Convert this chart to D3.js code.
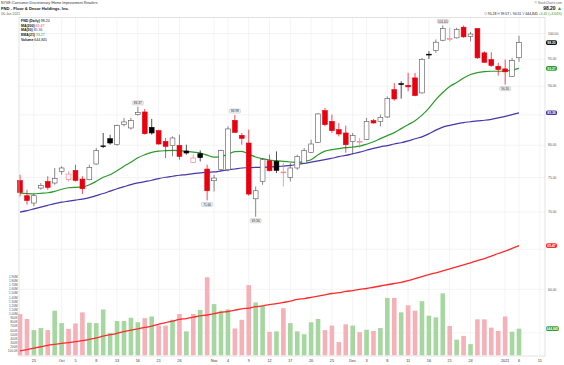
<!DOCTYPE html>
<html>
<head>
<meta charset="utf-8">
<script src="https://cdn.jsdelivr.net/npm/d3@7"></script>
<style>
  body { margin: 0; background: #fff; }
  svg { display: block; font-family: "Liberation Sans", Arial, sans-serif; }
</style>
</head>
<body>
<svg id="chart" width="564" height="365"></svg>
<script>
// FND daily, 23-Sep-2020 .. 06-Jan-2021 (73 sessions)
const opens = [74.57,72.33,71.28,73.45,74.42,74.19,75.93,74.68,76.08,74.78,74.68,77.06,79.90,81.06,80.09,83.36,82.81,85.04,85.50,82.91,
  82.37,80.62,79.93,79.98,79.09,77.31,78.66,76.29,74.53,76.19,76.19,84.08,81.60,80.36,71.89,74.42,77.57,77.46,75.80,75.02,
  76.45,77.21,78.87,80.46,85.73,83.91,82.53,81.99,80.62,80.55,80.90,84.03,83.91,84.65,89.40,90.48,90.18,91.52,88.82,95.95,
  96.66,98.67,98.90,99.14,101.27,99.40,101.00,96.21,94.93,93.67,93.18,91.81,95.28];
const highs = [75.43,73.20,72.60,74.19,75.20,76.45,76.70,75.93,76.95,75.20,76.95,79.56,81.99,81.70,83.36,84.49,84.49,86.37,86.02,84.32,
  82.53,81.17,81.43,81.70,80.09,78.51,79.19,76.95,75.43,79.30,83.08,84.98,81.99,82.53,73.68,77.99,78.51,79.03,77.26,77.21,
  78.51,79.56,80.90,85.30,86.20,85.04,83.64,83.19,81.99,81.17,84.49,84.32,85.04,88.21,90.61,90.90,92.44,92.44,95.26,96.52,
  98.81,101.65,101.15,101.15,101.60,100.30,101.00,96.52,96.33,94.31,94.93,95.26,99.57];
const lows = [72.22,71.04,70.80,73.20,73.20,73.93,75.43,74.42,74.42,72.60,74.60,76.95,79.56,80.10,79.93,83.08,82.53,84.90,81.70,81.70,
  80.09,77.99,78.24,77.72,78.51,77.21,77.46,71.66,72.95,75.93,75.93,81.99,80.09,72.33,69.36,73.93,75.93,75.68,73.68,74.42,
  76.19,77.10,78.77,80.36,83.08,81.99,81.43,78.82,78.51,79.56,80.85,83.53,83.08,84.49,87.46,87.81,89.10,88.21,88.70,95.07,
  96.21,98.47,98.47,99.00,99.14,98.47,95.07,94.31,93.56,91.94,90.30,91.70,94.51];
const closes = [72.80,71.65,72.33,73.83,73.54,74.87,76.45,75.53,74.57,73.35,76.54,79.14,79.80,80.36,83.19,83.81,84.03,85.44,81.87,81.99,
  80.20,79.82,81.17,78.24,78.77,77.99,78.05,73.05,74.93,79.14,82.65,82.09,81.11,72.57,73.05,77.72,76.03,76.10,75.84,76.45,
  78.24,79.14,80.20,85.16,83.36,82.37,81.82,80.09,81.55,80.62,83.91,83.64,84.59,87.81,87.75,90.30,89.89,88.34,94.93,95.89,
  98.28,101.00,99.00,100.80,99.34,99.90,95.26,94.42,93.80,93.05,92.63,94.75,98.20];
const prevClose0 = 75.10;
const volumes = [1000000,880000,610000,660000,610000,1080000,780000,640000,770000,1040000,790000,780000,1110000,540000,830000,830000,910000,800000,900000,940000,
  720000,720000,860000,1000000,580000,1000000,1100000,1890000,1240000,1080000,1110000,650000,860000,1700000,1280000,1190000,570000,580000,1140000,780000,
  580000,510000,800000,880000,610000,720000,320000,750000,720000,560000,620000,590000,660000,1390000,1390000,1040000,1210000,1080000,1310000,960000,
  920000,1500000,710000,380000,470000,270000,870000,870000,670000,590000,940000,570000,644845];
const ema21 = [72.72,72.65,72.61,72.68,72.76,72.97,73.27,73.49,73.56,73.59,73.93,74.45,75.05,75.43,76.03,76.72,77.33,78.04,78.51,78.86,
  79.06,79.14,79.19,79.14,79.03,78.90,78.77,78.43,78.12,78.20,78.59,78.98,79.03,78.59,78.15,77.88,77.68,77.57,77.46,77.37,
  77.31,77.45,77.72,78.51,79.06,79.30,79.46,79.61,79.72,79.85,80.17,80.57,81.06,81.55,82.04,82.70,83.36,84.03,84.96,86.17,
  87.64,88.89,89.95,90.67,91.49,92.13,92.50,92.68,92.74,92.74,92.78,92.96,93.27];
const ma50 = [70.00,70.20,70.45,70.70,70.95,71.20,71.40,71.55,71.70,71.85,72.05,72.35,72.65,73.00,73.35,73.65,73.95,74.20,74.40,74.60,
  74.85,75.05,75.20,75.35,75.45,75.60,75.70,75.80,75.85,76.00,76.15,76.30,76.45,76.50,76.55,76.55,76.60,76.65,76.75,76.85,
  77.00,77.15,77.35,77.55,77.75,77.95,78.20,78.40,78.65,78.90,79.20,79.50,79.75,79.95,80.20,80.40,80.70,81.05,81.35,81.85,
  82.45,82.95,83.25,83.50,83.70,83.85,84.00,84.10,84.25,84.50,84.75,85.05,85.36];
const ma200 = [53.05,53.20,53.35,53.50,53.65,53.75,53.85,53.95,54.05,54.15,54.30,54.45,54.65,54.80,54.95,55.15,55.30,55.45,55.60,55.75,
  55.95,56.15,56.30,56.50,56.60,56.75,56.90,57.00,57.15,57.30,57.40,57.55,57.70,57.80,57.95,58.05,58.20,58.30,58.45,58.60,
  58.80,58.90,59.05,59.20,59.35,59.50,59.60,59.75,59.85,60.00,60.10,60.25,60.40,60.55,60.70,60.85,61.05,61.30,61.55,61.80,
  62.00,62.25,62.50,62.75,63.00,63.25,63.55,63.80,64.10,64.45,64.75,65.10,65.47];

const tickIdx    = [2, 6, 8, 11, 14, 17, 20, 23, 28, 30, 33, 36, 39, 42, 45, 48, 50, 53, 56, 59, 62, 65, 70, 72, 75];
const tickLabels = ["25","Oct","5","8","13","16","21","26","Nov","4","9","12","17","20","25","Dec","3","8","11","16","21","24","2021","6","11"];
const priceTicks = [55, 60, 65, 70, 75, 80, 85, 90, 95, 100];
const volTicks = [100000,200000,300000,400000,500000,600000,700000,800000,900000,1000000,
  1100000,1200000,1300000,1400000,1500000,1600000,1700000,1800000,1900000];
const volTickLabels = ["100.0K","200K","300K","400K","500K","600K","700K","800K","900K","1.00M",
  "1.10M","1.20M","1.30M","1.40M","1.50M","1.60M","1.70M","1.80M","1.90M"];
// annotated swing highs / lows
const markIdx  = [17, 27, 31, 34, 61, 70];
const markSide = ["high", "low", "high", "low", "high", "low"];

const svg = d3.select("#chart");
const W = 564, H = 365;
const plotL = 19, plotR = 545, plotT = 17.5, plotB = 356;

const x = d3.scaleLinear().domain([-0.15, 75.75]).range([plotL, plotR]);
const y = d3.scaleLog().domain([52.52, 103.25]).range([plotB, plotT]);
const yv = d3.scaleLinear().domain([0, 1000000]).range([355.3, 314]);

const RED = "#e8000f", PINK = "#f5737f", GRN = "#2c9a2c", BLUE = "#4a35a8", MA200C = "#ff2a2a";

svg.append("rect").attr("width", W).attr("height", H).attr("fill", "#fff");

// grid
const grid = svg.append("g").attr("stroke", "#ececec").attr("stroke-width", 0.6);
grid.selectAll("line.v").data(tickIdx).join("line").attr("class", "v")
  .attr("x1", d => x(d)).attr("x2", d => x(d)).attr("y1", plotT).attr("y2", plotB);
grid.selectAll("line.h").data(priceTicks).join("line").attr("class", "h")
  .attr("x1", plotL).attr("x2", plotR).attr("y1", d => y(d)).attr("y2", d => y(d));

const idx = d3.range(closes.length);
const prevClose = i => i === 0 ? prevClose0 : closes[i - 1];
const isUp = i => closes[i] >= prevClose(i);

// volume
svg.append("g").selectAll("rect").data(idx).join("rect")
  .attr("x", i => x(i) - 2.3).attr("width", 4.6)
  .attr("y", i => yv(volumes[i])).attr("height", i => yv(0) - yv(volumes[i]))
  .attr("fill", i => isUp(i) ? "#a6d7a0" : "#f5b0b8");

// moving averages
const line = arr => d3.line().x((d, i) => x(i)).y(d => y(d)).curve(d3.curveMonotoneX)(arr);
svg.append("path").attr("d", line(ma200)).attr("fill", "none").attr("stroke", MA200C).attr("stroke-width", 1.3);
svg.append("path").attr("d", line(ma50)).attr("fill", "none").attr("stroke", BLUE).attr("stroke-width", 1.2);
svg.append("path").attr("d", line(ema21)).attr("fill", "none").attr("stroke", GRN).attr("stroke-width", 1.2);

// candles
const candleColor = i => isUp(i) ? "#555" : PINK;
const bodyColor = i => closes[i] < opens[i] ? (isUp(i) ? "#000" : RED) : candleColor(i);
const c = svg.append("g").selectAll("g").data(idx).join("g");
c.append("line")
  .attr("x1", i => x(i)).attr("x2", i => x(i))
  .attr("y1", i => y(highs[i])).attr("y2", i => y(lows[i]))
  .attr("stroke", bodyColor)
  .attr("stroke-width", 0.7);
c.append("rect")
  .attr("x", i => x(i) - 2.4).attr("width", 4.8)
  .attr("y", i => y(Math.max(opens[i], closes[i])))
  .attr("height", i => Math.max(0.8, Math.abs(y(opens[i]) - y(closes[i]))))
  .attr("fill", i => closes[i] < opens[i] ? bodyColor(i) : "#fff")
  .attr("stroke", bodyColor)
  .attr("stroke-width", 0.6);

// swing labels
const marks = svg.append("g").selectAll("g").data(markIdx).join("g")
  .attr("transform", (d, k) => {
    const yy = markSide[k] === "high" ? y(highs[d]) - 4 : y(lows[d]) + 4;
    return `translate(${x(d)},${yy})`;
  });
marks.append("rect").attr("x", -5.5).attr("y", -2).attr("width", 11).attr("height", 4).attr("rx", 0.8)
  .attr("fill", "#f3f3f3").attr("stroke", "#aaa").attr("stroke-width", 0.4);
marks.append("text").attr("text-anchor", "middle").attr("dy", "1.2").attr("font-size", 3.2).attr("fill", "#222")
  .text((d, k) => (markSide[k] === "high" ? highs[d] : lows[d]).toFixed(2));

// frame
svg.append("rect").attr("x", plotL).attr("y", plotT).attr("width", plotR - plotL).attr("height", plotB - plotT)
  .attr("fill", "none").attr("stroke", "#cfcfcf").attr("stroke-width", 0.6);

// value tags on the right
const n = closes.length - 1;
const tags = [
  { v: y(closes[n]), t: closes[n].toFixed(2), c: "#111", w: 11 },
  { v: y(ema21[n]), t: ema21[n].toFixed(2), c: GRN, w: 11 },
  { v: y(ma50[n]), t: ma50[n].toFixed(2), c: BLUE, w: 11 },
  { v: y(ma200[n]), t: ma200[n].toFixed(2), c: MA200C, w: 11 },
  { v: yv(volumes[n]), t: d3.format(",")(volumes[n]), c: GRN, w: 13 }
];

// right price axis (labels hidden under a tag are skipped, as in the original)
const freeTicks = priceTicks.filter(p => tags.every(t => Math.abs(t.v - y(p)) > 5));
svg.append("g").selectAll("text").data(freeTicks).join("text")
  .attr("x", 548).attr("y", d => y(d) + 1.2).attr("font-size", 3.4).attr("fill", "#555")
  .text(d => d.toFixed(2));

// left volume axis
svg.append("g").selectAll("text").data(volTicks).join("text")
  .attr("x", 17.5).attr("y", d => yv(d) + 1.1).attr("text-anchor", "end").attr("font-size", 3.1).attr("fill", "#555")
  .text((d, k) => volTickLabels[k]);

// x axis
svg.append("g").selectAll("text").data(tickIdx).join("text")
  .attr("x", d => x(d)).attr("y", 362.3).attr("text-anchor", "middle").attr("font-size", 3.8).attr("fill", "#333")
  .text((d, k) => tickLabels[k]);

const tg = svg.append("g").selectAll("g").data(tags).join("g").attr("transform", d => `translate(546,${d.v})`);
tg.append("rect").attr("x", 0).attr("y", -2.3).attr("width", d => d.w).attr("height", 4.6).attr("rx", 1.6).attr("fill", d => d.c);
tg.append("text").attr("x", d => d.w / 2).attr("y", 1.2).attr("text-anchor", "middle").attr("font-size", 3.3)
  .attr("font-weight", "bold").attr("fill", "#fff").text(d => d.t);

// legend
const legend = [
  { k: "FND (Daily)", v: closes[n].toFixed(2), c: "#111" },
  { k: "MA(200)", v: ma200[n].toFixed(2), c: MA200C },
  { k: "MA(50)", v: ma50[n].toFixed(2), c: BLUE },
  { k: "EMA(21)", v: ema21[n].toFixed(2), c: GRN },
  { k: "Volume", v: d3.format(",")(volumes[n]), c: "#111" }
];
const lg = svg.append("g").selectAll("text").data(legend).join("text")
  .attr("x", 21).attr("y", (d, k) => 22 + k * 4.7).attr("font-size", 3.5).attr("fill", "#111");
lg.append("tspan").attr("font-weight", "bold").text(d => d.k + " ");
lg.append("tspan").attr("fill", d => d.c).text(d => d.v);

// header
svg.append("text").attr("x", 1).attr("y", 4).attr("font-size", 3.5).attr("fill", "#333")
  .text("NYSE /Consumer Discretionary /Home Improvement Retailers");
svg.append("text").attr("x", 1).attr("y", 10).attr("font-size", 4.4).attr("font-weight", "bold").attr("fill", "#111")
  .attr("textLength", 68).attr("lengthAdjust", "spacingAndGlyphs")
  .text("FND - Floor & Decor Holdings, Inc.");
svg.append("text").attr("x", 1).attr("y", 15.3).attr("font-size", 3.4).attr("fill", "#666").text("06-Jan-2021");

svg.append("text").attr("x", 562).attr("y", 3.8).attr("text-anchor", "end").attr("font-size", 3.2).attr("fill", "#666")
  .text("\u00a9 StockCharts.com");
const hdr = svg.append("text").attr("x", 562).attr("y", 10.2).attr("text-anchor", "end").attr("font-size", 5)
  .attr("font-weight", "bold").attr("fill", "#111");
hdr.append("tspan").text(closes[n].toFixed(2) + " ");
hdr.append("tspan").attr("fill", GRN).text("\u25b2");
const chg = closes[n] - closes[n - 1];
const ohl = svg.append("text").attr("x", 562).attr("y", 15.3).attr("text-anchor", "end").attr("font-size", 3.4).attr("fill", "#111");
ohl.append("tspan").attr("fill", "#777").text("O ");
ohl.append("tspan").text(opens[n].toFixed(2) + "  ");
ohl.append("tspan").attr("fill", "#777").text("H ");
ohl.append("tspan").text(highs[n].toFixed(2) + "  ");
ohl.append("tspan").attr("fill", "#777").text("L ");
ohl.append("tspan").text(lows[n].toFixed(2) + "  ");
ohl.append("tspan").attr("fill", "#777").text("V ");
ohl.append("tspan").text(d3.format(",")(volumes[n]) + "  ");
ohl.append("tspan").attr("fill", GRN)
  .text("+" + chg.toFixed(2) + " (+" + (chg / closes[n - 1] * 100).toFixed(2) + "%)");
</script>
</body>
</html>
